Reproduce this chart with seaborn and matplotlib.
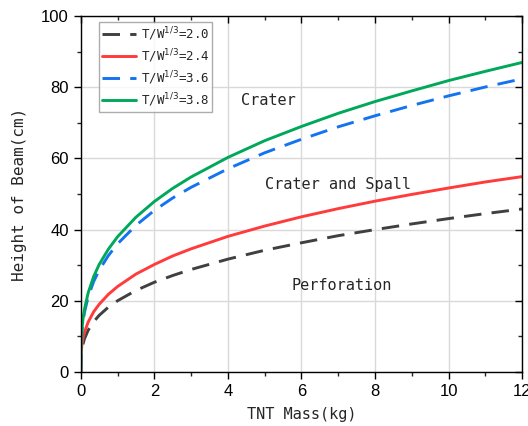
import numpy as np
import pandas as pd
import matplotlib
matplotlib.use("Agg")
import matplotlib.pyplot as plt
import seaborn as sns
from matplotlib.ticker import MultipleLocator

tnt_mass = [0, 0.01, 0.03, 0.06, 0.1, 0.2, 0.35, 0.5, 0.75, 1, 1.5, 2, 2.5, 3,
            4, 5, 6, 7, 8, 9, 10, 11, 12]
h_20 = [0, 4.3, 6.2, 7.8, 9.3, 11.7, 14.1, 15.9, 18.2, 20.0, 22.9, 25.2, 27.1, 28.8,
        31.7, 34.2, 36.3, 38.3, 40.0, 41.6, 43.1, 44.5, 45.8]
h_24 = [0, 5.2, 7.5, 9.4, 11.1, 14.0, 16.9, 19.0, 21.8, 24.0, 27.5, 30.2, 32.6, 34.6,
        38.1, 41.0, 43.6, 45.9, 48.0, 49.9, 51.7, 53.4, 54.9]
h_36 = [0, 7.8, 11.2, 14.1, 16.7, 21.1, 25.4, 28.6, 32.7, 36.0, 41.2, 45.4, 48.9, 51.9,
        57.1, 61.6, 65.4, 68.9, 72.0, 74.9, 77.6, 80.1, 82.4]
h_38 = [0, 8.2, 11.8, 14.9, 17.6, 22.2, 26.8, 30.2, 34.5, 38.0, 43.5, 47.9, 51.6, 54.8,
        60.3, 65.0, 69.0, 72.7, 76.0, 79.0, 81.9, 84.5, 87.0]
labels = ["T/W$^{1/3}$=2.0", "T/W$^{1/3}$=2.4", "T/W$^{1/3}$=3.6", "T/W$^{1/3}$=3.8"]
regions = ["Crater", "Crater and Spall", "Perforation"]
region_x = [5.1, 7.0, 7.1]
region_y = [76.4, 52.8, 24.2]

sns.set_theme(style="white")
plt.rcParams["font.family"] = ["Liberation Sans", "DejaVu Sans"]
mono = ["DejaVu Sans Mono", "DejaVu Sans"]

fig = plt.figure(figsize=(5.28, 4.26), dpi=100)
ax = fig.add_axes([0.153, 0.127, 0.836, 0.835])

series = [h_20, h_24, h_36, h_38]
colors = ["#404040", "#FF3B3B", "#1474F0", "#00A859"]
dashes = [(6, 3.5), None, (6, 3.5), None]
for vals, lab, c, d in zip(series, labels, colors, dashes):
    df = pd.DataFrame({"x": tnt_mass, "y": vals})
    l = sns.lineplot(data=df, x="x", y="y", ax=ax, color=c, lw=2.1, label=lab)
    if d is not None:
        l.get_lines()[-1].set_dashes(d)

ax.set_xlim(0, 12)
ax.set_ylim(0, 100)
ax.xaxis.set_major_locator(MultipleLocator(2))
ax.xaxis.set_minor_locator(MultipleLocator(1))
ax.yaxis.set_major_locator(MultipleLocator(20))
ax.yaxis.set_minor_locator(MultipleLocator(10))
ax.grid(True, which="major", color="#d9d9d9", lw=1)
for s in ax.spines.values():
    s.set_color("black")
    s.set_linewidth(1.0)
ax.tick_params(axis="both", which="major", direction="out", length=5, width=1,
               labelsize=12, colors="black", bottom=True, left=True)
ax.tick_params(axis="both", which="minor", direction="out", length=3, width=1,
               bottom=True, left=True)
ax.tick_params(axis="both", which="both", top=True, right=True)
for t in ax.xaxis.get_major_ticks() + ax.xaxis.get_minor_ticks():
    t.tick2line.set_marker(3)
for t in ax.yaxis.get_major_ticks() + ax.yaxis.get_minor_ticks():
    t.tick2line.set_marker(0)

ax.set_xlabel("TNT Mass(kg)", fontsize=11, family=mono, labelpad=6)
ax.set_ylabel("Height of Beam(cm)", fontsize=11.5, family=mono, labelpad=10)

for t, x, y in zip(regions, region_x, region_y):
    ax.text(x, y, t, ha="center", va="center", fontsize=11, family=mono)

leg = ax.legend(loc="upper left", bbox_to_anchor=(0.041, 0.983), frameon=True,
                prop={"family": mono, "size": 9}, handlelength=2.7,
                borderpad=0.25, labelspacing=0.35, handletextpad=0.4,
                borderaxespad=0)
leg.get_frame().set_edgecolor("#999999")
leg.get_frame().set_linewidth(1)
leg.get_frame().set_boxstyle("square", pad=0)

fig.savefig("out.png", dpi=100)
